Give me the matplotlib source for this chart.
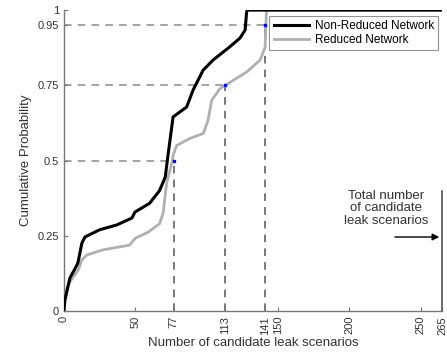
import numpy as np
import matplotlib
matplotlib.use('Agg')
import matplotlib.pyplot as plt

plt.rcParams['font.family'] = ['Liberation Sans', 'DejaVu Sans']

# curves (number of scenarios, cumulative probability)
non_reduced_x = [0, 0.7, 4.2, 7.7, 9.8, 12.6, 14.7, 25, 37, 47.6, 49.8, 60, 67, 71, 73,
                 76.5, 86, 90.5, 97.5, 104.5, 116, 123.4, 127, 128, 128.5, 265]
non_reduced_y = [0, 0.036, 0.11, 0.14, 0.16, 0.226, 0.246, 0.27, 0.286, 0.309, 0.329, 0.358,
                 0.40, 0.445, 0.52, 0.645, 0.678, 0.734, 0.80, 0.834, 0.877, 0.907, 0.934,
                 0.993, 1.0, 1.0]

reduced_x = [0, 0.7, 4, 10, 12.6, 16, 27, 46, 50, 59, 67, 69.5, 72, 75.5, 76.7, 79, 88,
             97.7, 101, 103.5, 109.5, 113, 128, 137.5, 141, 141.5, 142, 265]
reduced_y = [0, 0.06, 0.096, 0.136, 0.17, 0.186, 0.203, 0.219, 0.242, 0.262, 0.29, 0.325,
             0.425, 0.49, 0.52, 0.55, 0.573, 0.59, 0.634, 0.70, 0.74, 0.75, 0.794, 0.834,
             0.877, 0.95, 1.0, 1.0]

# quantile markers
q_levels = [0.5, 0.75, 0.95]
q_counts = [77, 113, 141]
total_scenarios = 265

xticks = [0, 50, 77, 113, 141, 150, 200, 250, 265]
yticks = [0, 0.25, 0.5, 0.75, 0.95, 1]
ytick_labels = ['0', '0.25', '0.5', '0.75', '0.95', '1']

fig = plt.figure(figsize=(4.47, 3.6), dpi=100)
ax = fig.add_axes([0.143, 0.136, 0.846, 0.836])

dash_col = '#8c8c8c'
for q, c in zip(q_levels, q_counts):
    ax.plot([0, c], [q, q], color=dash_col, lw=1.1, ls=(0, (5, 4)), zorder=1)
    ax.plot([c, c], [0, q], color='#555555', lw=1.1, ls=(0, (5, 4)), zorder=1)

ax.plot(non_reduced_x, non_reduced_y, color='black', lw=2.2, label='Non-Reduced Network', zorder=3)
ax.plot(reduced_x, reduced_y, color='#b0b0b0', lw=2.0, label='Reduced Network', zorder=2)
ax.plot(q_counts, q_levels, ls='none', marker='s', ms=2, color='blue', zorder=4)

# marker for the total number of candidate scenarios
ax.plot([total_scenarios, total_scenarios], [0, 0.4], color='#555555', lw=1.2, clip_on=False)
ax.annotate('', xy=(total_scenarios, 0.246), xytext=(230, 0.246),
            arrowprops=dict(arrowstyle='-|>', color='black', lw=1.0, mutation_scale=10))
ax.text(226, 0.342, 'Total number\nof candidate\nleak scenarios', ha='center', va='center',
        fontsize=9.5, color='#333333', linespacing=1.05)

ax.set_xlim(0, total_scenarios)
ax.set_ylim(0, 1)
ax.set_xticks(xticks)
ax.set_xticklabels([str(t) for t in xticks], rotation=90, fontsize=8, color='#333333')
ax.set_yticks(yticks)
ax.set_yticklabels(ytick_labels, fontsize=8, color='#333333')
ax.tick_params(direction='in', length=3, color='#777777', width=0.8)

for s in ['top', 'right']:
    ax.spines[s].set_visible(False)
for s in ['left', 'bottom']:
    ax.spines[s].set_color('#777777')
    ax.spines[s].set_linewidth(1.0)

ax.set_xlabel('Number of candidate leak scenarios', fontsize=9.5, color='#333333', labelpad=2)
ax.set_ylabel('Cumulative Probability', fontsize=9.5, color='#333333', labelpad=4)

leg = ax.legend(loc='upper right', bbox_to_anchor=(0.99, 0.98), fontsize=8.5, frameon=True,
                fancybox=False, handlelength=3.0, borderpad=0.35, labelspacing=0.15,
                handletextpad=0.5, borderaxespad=0)
leg.get_frame().set_edgecolor('#777777')
leg.get_frame().set_linewidth(0.8)

fig.savefig('out.png', dpi=100)
